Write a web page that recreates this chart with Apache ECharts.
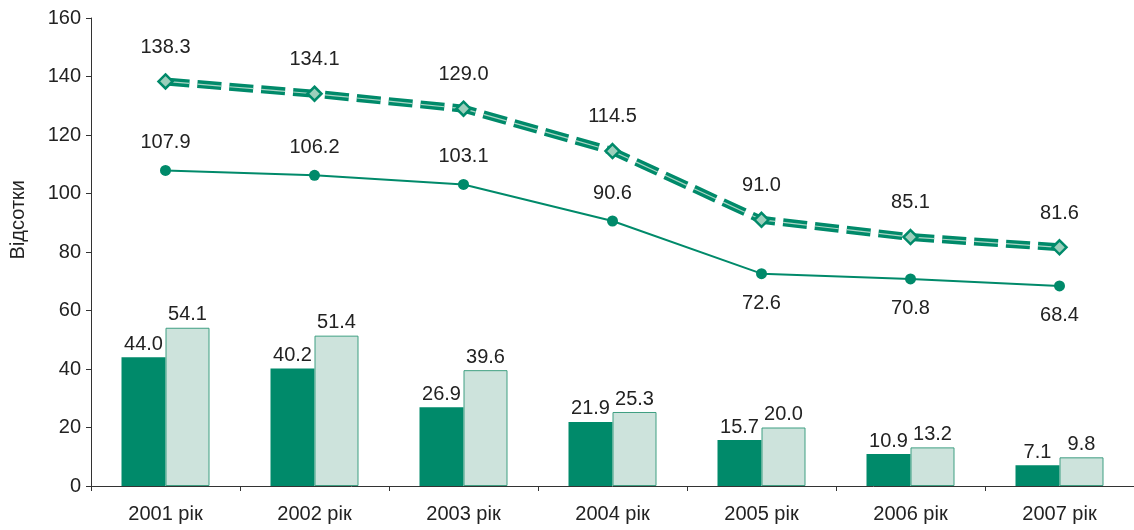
<!DOCTYPE html>
<html>
<head>
<meta charset="utf-8">
<script src="https://cdn.jsdelivr.net/npm/echarts@6/dist/echarts.min.js"></script>
<style>
  html, body { margin: 0; padding: 0; background: #fff; }
  #chart { width: 1134px; height: 530px; }
</style>
</head>
<body>
<div id="chart"></div>
<script>
var years = ['2001 рік', '2002 рік', '2003 рік', '2004 рік', '2005 рік', '2006 рік', '2007 рік'];
var dashedLine = [138.3, 134.1, 129.0, 114.5, 91.0, 85.1, 81.6];
var solidLine = [107.9, 106.2, 103.1, 90.6, 72.6, 70.8, 68.4];
var darkBars = [44.0, 40.2, 26.9, 21.9, 15.7, 10.9, 7.1];
var lightBars = [54.1, 51.4, 39.6, 25.3, 20.0, 13.2, 9.8];
var yTicks = [0, 20, 40, 60, 80, 100, 120, 140, 160];

var dark = '#008a6a';
var font = 'Liberation Sans, Arial, sans-serif';

// solid line: labels go below from 2005 onwards
var solidData = solidLine.map(function (v, i) {
  return {
    value: v,
    label: i >= 4 ? { position: 'bottom', distance: 14 } : { position: 'top', distance: 12 }
  };
});

var chart = echarts.init(document.getElementById('chart'));
chart.setOption({
  animation: false,
  textStyle: { fontFamily: font },
  grid: { left: 91, right: -2, top: 18, bottom: 44 },
  xAxis: {
    type: 'category',
    data: years,
    axisLine: { lineStyle: { color: '#333', width: 1 } },
    axisTick: { show: true, length: 5, lineStyle: { color: '#333' } },
    axisLabel: { color: '#222', fontSize: 20, margin: 18, fontFamily: font }
  },
  yAxis: {
    type: 'value',
    min: yTicks[0],
    max: yTicks[yTicks.length - 1],
    interval: 20,
    splitLine: { show: false },
    axisLine: { show: true, lineStyle: { color: '#333', width: 1 } },
    axisTick: { show: true, length: 5, lineStyle: { color: '#333' } },
    axisLabel: { color: '#222', fontSize: 20, margin: 10, fontFamily: font }
  },
  graphic: [{
    type: 'text',
    left: 8,
    top: 180,
    rotation: Math.PI / 2,
    style: { text: 'Відсотки', fontSize: 20, fill: '#222', fontFamily: font }
  }],
  series: [
    {
      type: 'bar',
      data: darkBars,
      barWidth: 44,
      barGap: '0%',
      itemStyle: { color: dark },
      label: { show: true, position: 'top', distance: 3, fontSize: 20, color: '#222',
        formatter: function (p) { return p.value.toFixed(1); } }
    },
    {
      type: 'bar',
      data: lightBars,
      barWidth: 44,
      barGap: '0%',
      itemStyle: { color: '#cde3dc', borderColor: '#3f9f82', borderWidth: 1 },
      label: { show: true, position: 'top', distance: 3, fontSize: 20, color: '#222',
        formatter: function (p) { return p.value.toFixed(1); } }
    },
    {
      type: 'line',
      data: solidData,
      symbol: 'circle',
      symbolSize: 11,
      lineStyle: { color: dark, width: 2 },
      itemStyle: { color: dark },
      label: { show: true, fontSize: 20, color: '#222',
        formatter: function (p) { return p.value.toFixed(1); } },
      z: 3
    },
    {
      type: 'line',
      data: dashedLine,
      symbol: 'none',
      lineStyle: { color: dark, width: 8, type: [24, 8] },
      z: 4
    },
    {
      type: 'line',
      data: dashedLine,
      symbol: 'diamond',
      symbolSize: 14,
      lineStyle: { color: '#a9d5c5', width: 1.2, type: [24, 8] },
      itemStyle: { color: '#9ccfbc', borderColor: dark, borderWidth: 2.5 },
      label: { show: true, position: 'top', distance: 16, fontSize: 20, color: '#222',
        formatter: function (p) { return p.value.toFixed(1); } },
      z: 5
    }
  ]
});
</script>
</body>
</html>
